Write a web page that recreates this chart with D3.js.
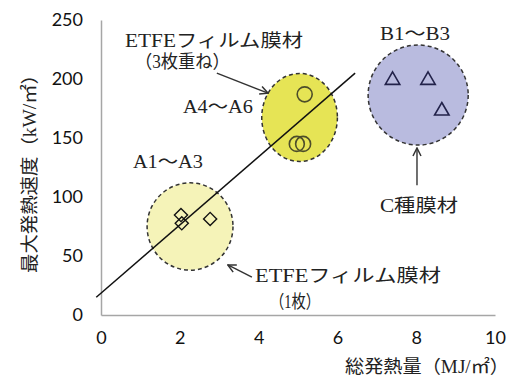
<!DOCTYPE html>
<html>
<head>
<meta charset="utf-8">
<script src="https://cdn.jsdelivr.net/npm/d3@7"></script>
<style>
  body { margin: 0; background: #fff; }
  .tick text { font-family: Lato, "Open Sans", sans-serif; font-size: 18px; fill: #111; }
  .lbl { font-family: "Liberation Serif", "Noto Sans CJK JP", serif; font-size: 18px; fill: #222; }
</style>
</head>
<body>
<svg width="514" height="380"></svg>
<script>
// data
var xTicks = [0, 2, 4, 6, 8, 10],
    yTicks = [0, 50, 100, 150, 200, 250];

// ETFE 1 sheet (A1-A3), ETFE 3 sheets (A4-A6), C-type membrane (B1-B3)
var diamonds = [[2.03, 84.7], [2.05, 77.7], [2.77, 81.4]];
var circles = [[5.17, 187], [4.97, 145], [5.13, 145]];
var triangles = [[7.40, 199], [8.30, 199], [8.65, 173]];

// group ellipses: cx, cy, rx (MJ), ry (kW), fill
var groups = [
  {cx: 2.26, cy: 75, rx: 1.09, ry: 37, fill: "#f5f3b8"},
  {cx: 5.04, cy: 167.4, rx: 0.96, ry: 37.3, fill: "#e6e455"},
  {cx: 8.05, cy: 186.4, rx: 1.27, ry: 42.4, fill: "#b9bbdf"}
];

// trend line ends
var trend = [[-0.12, 15], [6.45, 205]];

// labels [text, x, y, width]
var labels = [
  ["ETFEフィルム膜材", 0.61, 227, 178],
  ["（3枚重ね）", 0.86, 209, 95],
  ["A4～A6", 2.08, 171, 70],
  ["A1～A3", 0.81, 124.6, 70],
  ["B1～B3", 7.08, 233, 70],
  ["C種膜材", 7.08, 87.3, 78],
  ["ETFEフィルム膜材", 3.91, 28, 186],
  ["（1枚）", 4.29, 6, 50]
];

// arrows [x1, y1, x2, y2] (head at x2,y2)
var arrows = [
  [2.94, 205, 4.24, 188],
  [8.02, 110, 8.02, 141.5],
  [3.83, 32, 3.22, 42.4]
];

var svg = d3.select("svg");

var x = d3.scaleLinear().domain([0, 10]).range([101, 495]),
    y = d3.scaleLinear().domain([0, 250]).range([315, 20]);

svg.append("defs").append("marker")
    .attr("id", "head")
    .attr("viewBox", "0 0 10 10")
    .attr("refX", 9).attr("refY", 5)
    .attr("markerWidth", 10).attr("markerHeight", 10)
    .attr("markerUnits", "userSpaceOnUse")
    .attr("orient", "auto")
  .append("path")
    .attr("d", "M1,1 L9,5 L1,9")
    .attr("fill", "none")
    .attr("stroke", "#333")
    .attr("stroke-width", 1.5);

// axes
var xAxis = svg.append("g")
    .attr("transform", "translate(0," + y(0) + ")")
    .call(d3.axisBottom(x).tickValues(xTicks).tickSize(0).tickPadding(16));
var yAxis = svg.append("g")
    .attr("transform", "translate(" + x(0) + ",0)")
    .call(d3.axisLeft(y).tickValues(yTicks).tickSize(0).tickPadding(18));
svg.selectAll(".domain").attr("stroke", "#a6a6a6").attr("stroke-width", 1.5);

// group ellipses
svg.selectAll(".grp")
  .data(groups)
  .enter().append("ellipse")
    .attr("class", "grp")
    .attr("cx", function(d) { return x(d.cx); })
    .attr("cy", function(d) { return y(d.cy); })
    .attr("rx", function(d) { return x(d.cx + d.rx) - x(d.cx); })
    .attr("ry", function(d) { return y(d.cy - d.ry) - y(d.cy); })
    .attr("fill", function(d) { return d.fill; })
    .attr("stroke", "#333")
    .attr("stroke-width", 1.5)
    .attr("stroke-dasharray", "4,3");

// trend line
svg.append("path")
    .attr("d", d3.line().x(function(d) { return x(d[0]); }).y(function(d) { return y(d[1]); })(trend))
    .attr("fill", "none")
    .attr("stroke", "#111")
    .attr("stroke-width", 1.5);

// markers
svg.selectAll(".dia")
  .data(diamonds)
  .enter().append("path")
    .attr("d", d3.symbol().type(d3.symbolDiamond2).size(110))
    .attr("transform", function(d) { return "translate(" + x(d[0]) + "," + y(d[1]) + ")"; })
    .attr("fill", "none").attr("stroke", "#111").attr("stroke-width", 1.4);

svg.selectAll(".cir")
  .data(circles)
  .enter().append("circle")
    .attr("cx", function(d) { return x(d[0]); })
    .attr("cy", function(d) { return y(d[1]); })
    .attr("r", 7.5)
    .attr("fill", "none").attr("stroke", "#4d4d2a").attr("stroke-width", 1.6);

svg.selectAll(".tri")
  .data(triangles)
  .enter().append("path")
    .attr("d", d3.symbol().type(d3.symbolTriangle2).size(150))
    .attr("transform", function(d) { return "translate(" + x(d[0]) + "," + y(d[1]) + ")"; })
    .attr("fill", "none").attr("stroke", "#22224a").attr("stroke-width", 1.6);

// arrows
svg.selectAll(".arr")
  .data(arrows)
  .enter().append("line")
    .attr("x1", function(d) { return x(d[0]); })
    .attr("y1", function(d) { return y(d[1]); })
    .attr("x2", function(d) { return x(d[2]); })
    .attr("y2", function(d) { return y(d[3]); })
    .attr("stroke", "#333").attr("stroke-width", 1.4)
    .attr("marker-end", "url(#head)");

// annotation labels
svg.selectAll(".ann")
  .data(labels)
  .enter().append("text")
    .attr("class", "lbl")
    .attr("x", function(d) { return x(d[1]); })
    .attr("y", function(d) { return y(d[2]); })
    .attr("textLength", function(d) { return d[3]; })
    .attr("lengthAdjust", "spacingAndGlyphs")
    .text(function(d) { return d[0]; });

// axis titles
svg.append("text")
    .attr("class", "lbl")
    .attr("x", 345).attr("y", 373)
    .attr("textLength", 164)
    .attr("lengthAdjust", "spacingAndGlyphs")
    .text("総発熱量（MJ/㎡）");

svg.append("text")
    .attr("class", "lbl")
    .attr("transform", "translate(36,273) rotate(-90)")
    .attr("textLength", 208)
    .attr("lengthAdjust", "spacingAndGlyphs")
    .text("最大発熱速度（kW/㎡）");
</script>
</body>
</html>
